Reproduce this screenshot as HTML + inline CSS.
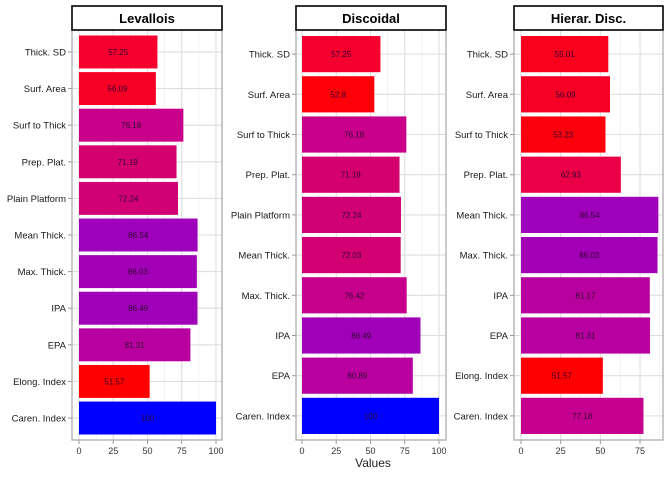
<!DOCTYPE html>
<html><head><meta charset="utf-8"><style>
body{margin:0;background:#fff}
svg{display:block;font-family:"Liberation Sans",Arial,sans-serif}
</style></head><body>
<svg id="c" width="672" height="480"></svg>
<script>
const panelTitles=["Levallois","Discoidal","Hierar. Disc."];
const cats0=["Thick. SD","Surf. Area","Surf to Thick","Prep. Plat.","Plain Platform","Mean Thick.","Max. Thick.","IPA","EPA","Elong. Index","Caren. Index"];
const vals0=[57.25,56.09,76.18,71.19,72.24,86.54,86.03,86.49,81.31,51.57,100];
const cats1=["Thick. SD","Surf. Area","Surf to Thick","Prep. Plat.","Plain Platform","Mean Thick.","Max. Thick.","IPA","EPA","Caren. Index"];
const vals1=[57.25,52.8,76.18,71.19,72.24,72.03,76.42,86.49,80.89,100];
const cats2=["Thick. SD","Surf. Area","Surf to Thick","Prep. Plat.","Mean Thick.","Max. Thick.","IPA","EPA","Elong. Index","Caren. Index"];
const vals2=[55.01,56.09,53.23,62.93,86.54,86.03,81.17,81.31,51.57,77.18];
const ticks=[0,25,50,75,100];

const NS="http://www.w3.org/2000/svg",svg=document.getElementById('c');
function mk(t,a,p){const e=document.createElementNS(NS,t);for(const k in a)e.setAttribute(k,a[k]);(p||svg).appendChild(e);return e;}
const stops=[[0,[255,0,0]],[0.117,[245,0,46]],[0.24,[235,0,72]],[0.405,[212,0,110]],[0.508,[200,0,138]],[0.614,[184,0,160]],[0.72,[160,0,184]],[1,[0,0,255]]];
function col(v){let t=(v-51.57)/(100-51.57);t=Math.max(0,Math.min(1,t));
 for(let i=1;i<stops.length;i++){if(t<=stops[i][0]){const a=stops[i-1],b=stops[i],f=(t-a[0])/(b[0]-a[0]);
 return 'rgb('+a[1].map((c,j)=>Math.round(c+(b[1][j]-c)*f)).join(',')+')';}}return 'rgb(0,0,255)';}
const panels=[
 {cats:cats0,vals:vals0,x0:72,x1:222,z:79,s:1.37,max:100},
 {cats:cats1,vals:vals1,x0:296,x1:446,z:302,s:1.37,max:100},
 {cats:cats2,vals:vals2,x0:514,x1:663,z:521,s:1.587,max:88}
];
const pTop=30,pBot=440;
panels.forEach((p,pi)=>{
 const g=mk('g',{});
 
 
 const X=v=>p.z+v*p.s;
 const n=p.cats.length, step=(pBot-pTop)/(n+0.2), bh=step*0.9;
 const Y=i=>pTop+step*0.6+step*i;
 for(let v=12.5;v<=p.max;v+=25) mk('line',{x1:X(v),x2:X(v),y1:pTop,y2:pBot,stroke:'#ebebeb','stroke-width':0.6},g);
 ticks.forEach(v=>{if(v<=p.max) mk('line',{x1:X(v),x2:X(v),y1:pTop,y2:pBot,stroke:'#dedede','stroke-width':1.1},g);});
 p.cats.forEach((c,i)=>mk('line',{x1:p.x0,x2:p.x1,y1:Y(i),y2:Y(i),stroke:'#dedede','stroke-width':1.1},g));
 p.cats.forEach((c,i)=>{
  const r=mk('rect',{x:X(0),y:Y(i)-bh/2,width:X(p.vals[i])-X(0),height:bh,fill:col(p.vals[i])},g);
  
  
  const t=mk('text',{x:(X(0)+X(p.vals[i]))/2,y:Y(i)+3,'font-size':8,'text-anchor':'middle',fill:'#330033'},g);
  t.textContent=String(p.vals[i]);
  
  
  const l=mk('text',{x:p.x0-6,y:Y(i)+3.5,'font-size':9.5,'text-anchor':'end',fill:'#1a1a1a'},g);
  l.textContent=c;
  
  
  mk('line',{x1:p.x0-4,x2:p.x0,y1:Y(i),y2:Y(i),stroke:'#999'},g);
 });
 ticks.forEach(v=>{if(v>p.max)return;
  mk('line',{x1:X(v),x2:X(v),y1:pBot,y2:pBot+4,stroke:'#999'},g);
  const t=mk('text',{x:X(v),y:pBot+14,'font-size':9,'text-anchor':'middle',fill:'#333'},g);
  t.textContent=v;
  
  
 });
 mk('rect',{x:p.x0,y:pTop,width:p.x1-p.x0,height:pBot-pTop,fill:'none',stroke:'#a6a6a6','stroke-width':1.2},g);
 const sr=mk('rect',{x:p.x0,y:6,width:p.x1-p.x0,height:24,fill:'#fff',stroke:'#000','stroke-width':1.6},g);
 
 
 const st=mk('text',{x:(p.x0+p.x1)/2,y:23,'font-size':13,'font-weight':'bold','text-anchor':'middle',fill:'#000'},g);
 st.textContent=panelTitles[pi];
 
 
});
const xt=mk('text',{x:373,y:467,'font-size':12,'text-anchor':'middle',fill:'#222'});
xt.textContent='Values';


</script>
</body></html>
